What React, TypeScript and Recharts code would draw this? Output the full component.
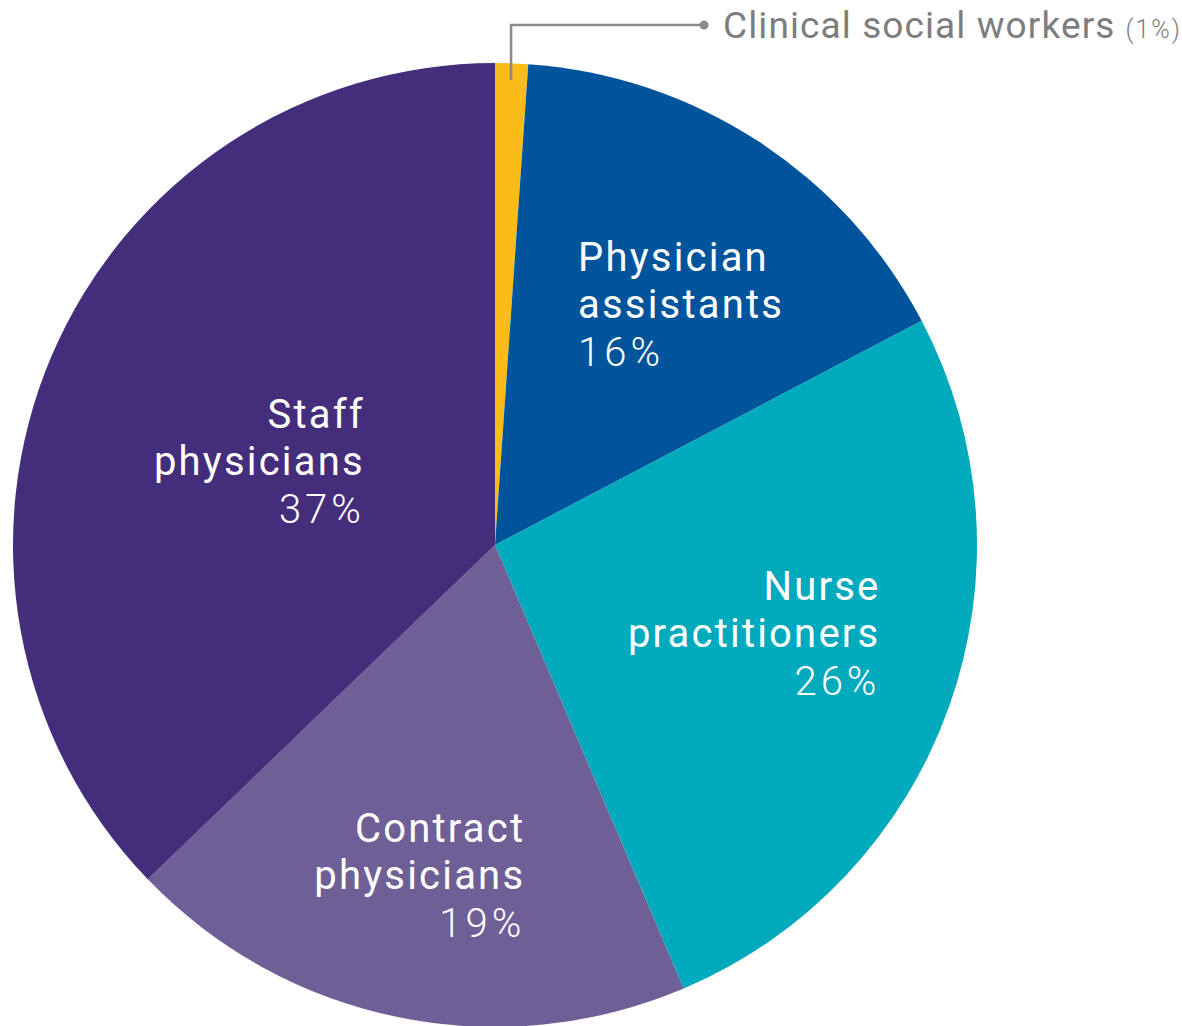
import { Cell, Pie, PieChart } from 'recharts';

const CATEGORIES = [
  'Clinical social workers',
  'Physician assistants',
  'Nurse practitioners',
  'Contract physicians',
  'Staff physicians',
];
const SHARES = [1.1, 16.2, 26.3, 19.2, 37.2];
const PERCENT_LABELS = ['1%', '16%', '26%', '19%', '37%'];
const LABEL_LINES = [
  ['Clinical social workers'],
  ['Physician', 'assistants'],
  ['Nurse', 'practitioners'],
  ['Contract', 'physicians'],
  ['Staff', 'physicians'],
];

const COLORS = ['#FBBC1A', '#00549B', '#00AABD', '#6F5F97', '#442D7B'];

// label placement relative to the point at 60% of the radius on each slice's mid angle
const LABEL_PLACE: Record<string, { anchor: 'start' | 'end'; dx: number; dy: number }> = {
  'Physician assistants': { anchor: 'start', dx: -75, dy: -32 },
  'Nurse practitioners': { anchor: 'end', dx: 113, dy: -42 },
  'Contract physicians': { anchor: 'end', dx: 88, dy: 14 },
  'Staff physicians': { anchor: 'end', dx: 136, dy: -4 },
};

const rows = CATEGORIES.map((name, i) => ({
  name,
  value: SHARES[i],
  pct: PERCENT_LABELS[i],
  lines: LABEL_LINES[i],
}));

const RAD = Math.PI / 180;
const FONT = 'Roboto, "Liberation Sans", sans-serif';

function renderLabel(props: any) {
  const { cx, cy, midAngle, outerRadius, payload, index } = props;
  const row = payload?.payload ?? payload;
  const name: string = row.name ?? CATEGORIES[index];

  if (index === 0) {
    // small slice gets a callout above the pie
    const sx = cx + (outerRadius - 17) * Math.cos(-midAngle * RAD);
    const sy = cy + (outerRadius - 17) * Math.sin(-midAngle * RAD);
    const ty = cy - outerRadius - 38;
    const ex = sx + 193;
    return (
      <g>
        <polyline
          points={`${sx},${sy} ${sx},${ty} ${ex},${ty}`}
          fill="none"
          stroke="#8a8a8d"
          strokeWidth={2.5}
        />
        <circle cx={ex} cy={ty} r={4.5} fill="#8a8a8d" />
        <text x={ex + 19} y={ty + 13} fill="#7d7d80" fontFamily={FONT} fontSize={37} letterSpacing={1.1}>
          {name}
          <tspan fontSize={25} fontWeight={300} dx={10} letterSpacing={2}>({row.pct})</tspan>
        </text>
      </g>
    );
  }

  const place = LABEL_PLACE[name];
  const r = outerRadius * 0.6;
  const px = cx + r * Math.cos(-midAngle * RAD) + place.dx;
  const py = cy + r * Math.sin(-midAngle * RAD) + place.dy;
  const lines: string[] = row.lines ?? LABEL_LINES[index];

  return (
    <text x={px} y={py} fill="#ffffff" textAnchor={place.anchor} fontFamily={FONT} fontSize={40} letterSpacing={2.2}>
      {lines.map((line, i) => (
        <tspan key={line} x={px} dy={i === 0 ? 0 : 47}>
          {line}
        </tspan>
      ))}
      <tspan x={px} dy={48} fontWeight={300} letterSpacing={4}>
        {row.pct}
      </tspan>
    </text>
  );
}

export default function App() {
  return (
    <div style={{ width: 1182, height: 1026 }}>
      <style>{'body{margin:0}'}</style>
      <PieChart width={1182} height={1026} margin={{ top: 0, right: 0, bottom: 0, left: 0 }}>
        <Pie
          data={rows}
          dataKey="value"
          nameKey="name"
          cx={495}
          cy={545}
          outerRadius={482}
          startAngle={90}
          endAngle={-270}
          stroke="none"
          labelLine={false}
          label={renderLabel}
          isAnimationActive={false}
        >
          {rows.map((r, i) => (
            <Cell key={r.name} fill={COLORS[i]} />
          ))}
        </Pie>
      </PieChart>
    </div>
  );
}
